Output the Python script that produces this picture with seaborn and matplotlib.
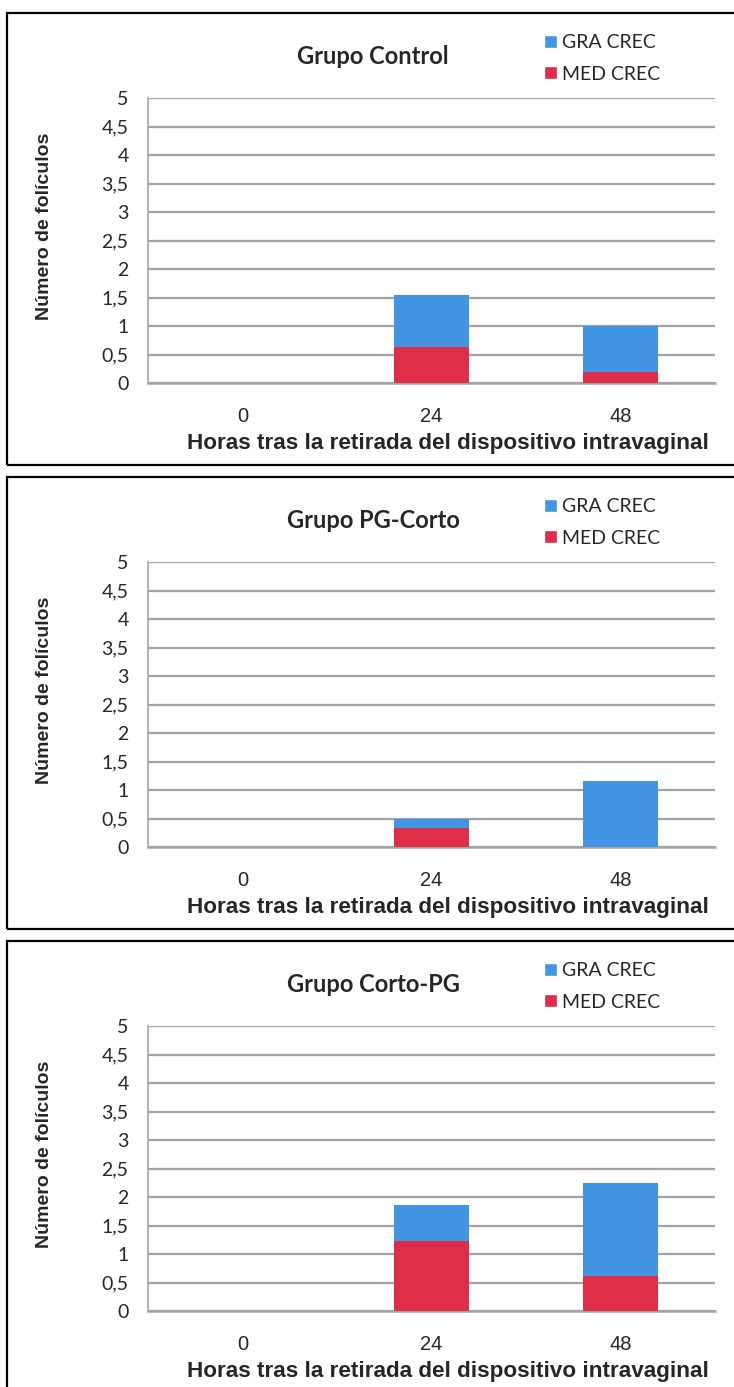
import matplotlib
matplotlib.use("Agg")
import matplotlib.pyplot as plt
from matplotlib.patches import Rectangle, Patch
import seaborn as sns
import pandas as pd

# ---- data ----
categories = ["0", "24", "48"]
groups = ["Grupo Control", "Grupo PG-Corto", "Grupo Corto-PG"]
med_crec = [
    [0.0, 0.64, 0.20],
    [0.0, 0.33, 0.0],
    [0.0, 1.23, 0.61],
]
gra_crec = [
    [0.0, 0.90, 0.80],
    [0.0, 0.17, 1.15],
    [0.0, 0.63, 1.64],
]
series_names = ["GRA CREC", "MED CREC"]
ytick_values = [0, 0.5, 1, 1.5, 2, 2.5, 3, 3.5, 4, 4.5, 5]
ytick_labels = ["0", "0,5", "1", "1,5", "2", "2,5", "3", "3,5", "4", "4,5", "5"]
xlabel = "Horas tras la retirada del dispositivo intravaginal"
ylabel = "Número de folículos"

BLUE = "#4295E3"
RED = "#DF2E47"
GRID = "#A3A3A3"

sns.set_theme(style="white")
plt.rcParams["font.family"] = ["Lato", "DejaVu Sans"]

W, H = 734, 1387
fig = plt.figure(figsize=(W / 100, H / 100), dpi=100)

def fx(px):
    return px / W

def fy(py):
    return 1 - py / H

panel_tops = [13, 477, 941]
ax_left, ax_right = 148, 715

for k, top in enumerate(panel_tops):
    # panel border
    fig.add_artist(Rectangle((fx(7), fy(top + 452)), fx(740) - fx(7), (452) / H,
                             transform=fig.transFigure, fill=False,
                             edgecolor="black", linewidth=1.6, zorder=0))
    ax_top, ax_bot = top + 85, top + 370
    ax = fig.add_axes([fx(ax_left), fy(ax_bot), fx(ax_right) - fx(ax_left), (ax_bot - ax_top) / H])
    df = pd.DataFrame({
        "hora": categories,
        "total": [g + m for g, m in zip(gra_crec[k], med_crec[k])],
        "med": med_crec[k],
    })
    sns.barplot(data=df, x="hora", y="total", order=categories, color=BLUE,
                width=0.4, saturation=1, linewidth=0, ax=ax, zorder=3)
    sns.barplot(data=df, x="hora", y="med", order=categories, color=RED,
                width=0.4, saturation=1, linewidth=0, ax=ax, zorder=4)
    ax.set_ylim(0, 5)
    ax.set_xlim(-0.5, 2.5)
    ax.set_yticks(ytick_values)
    ax.set_yticklabels(ytick_labels, fontsize=14, family=["Lato", "DejaVu Sans"])
    ax.set_xticks(range(len(categories)))
    ax.set_xticklabels(categories, fontsize=14.5, family=["Liberation Sans", "DejaVu Sans"])
    ax.tick_params(axis="y", length=0, pad=14)
    ax.tick_params(axis="x", length=0, pad=17)
    ax.yaxis.grid(True, color=GRID, linewidth=1.6)
    ax.set_axisbelow(True)
    for s in ["top", "right"]:
        ax.spines[s].set_visible(False)
    ax.spines["left"].set_color(GRID)
    ax.spines["left"].set_linewidth(1.2)
    ax.spines["bottom"].set_color(GRID)
    ax.spines["bottom"].set_linewidth(1.8)
    ax.set_xlabel("")
    ax.set_ylabel("")
    # axis titles
    fig.text(fx(448), fy(top + 430), xlabel, ha="center", va="center",
             fontsize=16.2, fontweight="bold", family=["Liberation Sans", "DejaVu Sans"])
    fig.text(fx(45), fy(top + 213), ylabel, ha="center", va="center", rotation=90,
             fontsize=14, fontweight="bold", family=["Liberation Sans", "DejaVu Sans"])
    # chart title
    fig.text(fx(373), fy(top + 44), groups[k], ha="center", va="center",
             fontsize=17, fontweight="bold", family=["Lato", "DejaVu Sans"])
    # legend
    handles = [Patch(facecolor=BLUE, label=series_names[0]),
               Patch(facecolor=RED, label=series_names[1])]
    ax.legend(handles=handles, loc="upper left",
              bbox_to_anchor=(fx(544), fy(top + 21)), bbox_transform=fig.transFigure,
              frameon=False, borderpad=0, borderaxespad=0,
              handlelength=0.65, handleheight=0.65, handletextpad=0.25,
              labelspacing=0.75, prop={"family": ["Lato", "DejaVu Sans"], "size": 14})

fig.savefig("out.png", dpi=100)
